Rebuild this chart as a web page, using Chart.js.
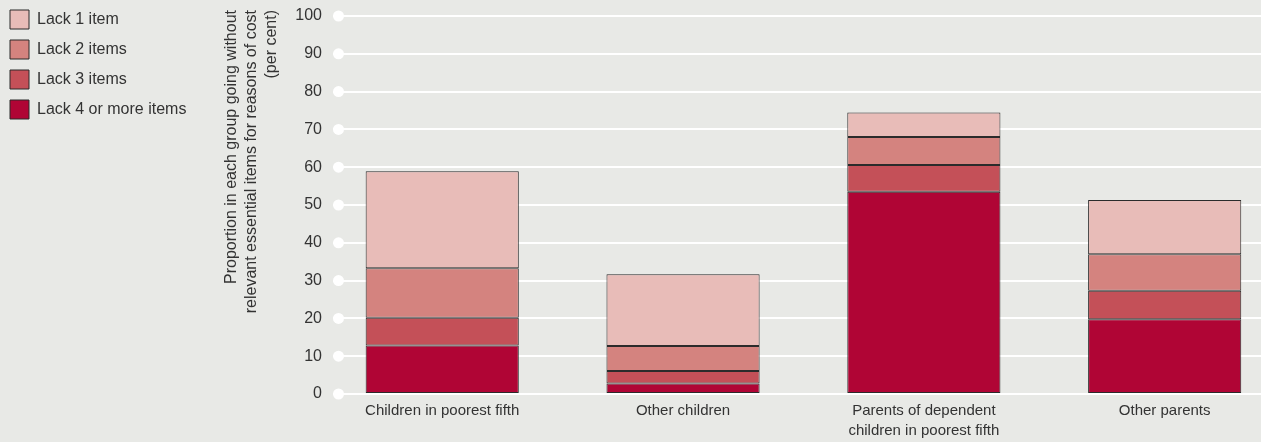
<!DOCTYPE html>
<html>
<head>
<meta charset="utf-8">
<script src="https://cdn.jsdelivr.net/npm/chart.js@4.4.1/dist/chart.umd.min.js"></script>
<style>
  html, body { margin: 0; padding: 0; background: #e8e9e6; overflow: hidden; }
  #wrap { width: 1261px; height: 442px; }
</style>
</head>
<body>
<div id="wrap"><canvas id="chart"></canvas></div>
<script>
// groups along the bottom (multi-line labels as arrays)
const groups = [
    ['Children in poorest fifth'],
    ['Other children'],
    ['Parents of dependent', 'children in poorest fifth'],
    ['Other parents']
];

// per cent lacking items
const lack4 = [12.8, 2.8, 53.5, 19.8];
const lack3 = [7.4, 3.3, 7.1, 7.5];
const lack2 = [13.1, 6.6, 7.4, 9.7];
const lack1 = [25.6, 19.0, 6.5, 14.3];

const seriesLabels = ['Lack 4 or more items', 'Lack 3 items', 'Lack 2 items', 'Lack 1 item'];
const seriesValues = [lack4, lack3, lack2, lack1];
const seriesColors = ['#b00535', '#c45058', '#d4837f', '#e8bcb8'];

const yTitle = [
    'Proportion in each group going without',
    'relevant essential items for reasons of cost',
    '(per cent)'
];

const BG = '#e8e9e6';
const TEXT = '#333333';
const FAMILY = '"Liberation Sans", Arial, Helvetica, sans-serif';

Chart.defaults.font.family = FAMILY;
Chart.defaults.color = TEXT;

// paint the grey page behind everything
const background = {
    id: 'background',
    beforeDraw(chart) {
        const ctx = chart.ctx;
        ctx.save();
        ctx.fillStyle = BG;
        ctx.fillRect(0, 0, chart.width, chart.height);
        ctx.restore();
    }
};

// white dot at the start of each gridline
const gridDots = {
    id: 'gridDots',
    beforeDatasetsDraw(chart) {
        const ctx = chart.ctx;
        const y = chart.scales.y;
        const x0 = chart.chartArea.left + 5.5;
        ctx.save();
        ctx.fillStyle = '#ffffff';
        y.ticks.forEach(t => {
            ctx.beginPath();
            ctx.arc(x0, y.getPixelForValue(t.value), 5.5, 0, Math.PI * 2);
            ctx.fill();
        });
        ctx.restore();
    }
};

// y title, three lines ending at the top of the picture
const yTitleText = {
    id: 'yTitleText',
    afterDraw(chart) {
        const ctx = chart.ctx;
        const x0 = chart.chartArea.left - 101;
        ctx.save();
        ctx.fillStyle = TEXT;
        ctx.font = '16px ' + FAMILY;
        ctx.textAlign = 'right';
        ctx.textBaseline = 'middle';
        yTitle.forEach((line, i) => {
            ctx.save();
            ctx.translate(x0 + i * 20, 10);
            ctx.rotate(-Math.PI / 2);
            ctx.fillText(line, 0, 0);
            ctx.restore();
        });
        ctx.restore();
    }
};

new Chart(document.getElementById('chart'), {
    type: 'bar',
    data: {
        datasets: seriesLabels.map((label, s) => ({
            label: label,
            data: seriesValues[s].map((v, i) => ({ x: i, y: v })),
            backgroundColor: seriesColors[s],
            borderColor: '#2b2b2b',
            borderWidth: 1,
            borderSkipped: false,
            categoryPercentage: 0.8,
            barPercentage: 0.795
        }))
    },
    options: {
        responsive: true,
        maintainAspectRatio: false,
        animation: false,
        layout: {
            padding: { left: -1, top: -1, right: 0, bottom: 0 }
        },
        plugins: {
            tooltip: { enabled: false },
            legend: {
                position: 'left',
                align: 'start',
                reverse: true,
                labels: {
                    boxWidth: 19,
                    boxHeight: 19,
                    padding: 11,
                    color: TEXT,
                    font: { size: 16 }
                }
            }
        },
        scales: {
            x: {
                type: 'linear',
                stacked: true,
                offset: false,
                min: -0.4536,
                max: 3.4,
                afterBuildTicks(scale) {
                    scale.ticks = groups.map((g, i) => ({ value: i }));
                },
                afterFit(scale) {
                    scale.height = 48;
                },
                ticks: {
                    callback: v => groups[v],
                    padding: 7,
                    maxRotation: 0,
                    autoSkip: false,
                    color: TEXT,
                    font: { size: 15, lineHeight: 1.333 }
                },
                grid: { display: false, drawTicks: false },
                border: { display: false }
            },
            y: {
                stacked: true,
                min: 0,
                max: 100,
                afterFit(scale) {
                    scale.width = 334 - scale.chart.legend.width;
                    scale.paddingTop = 16;
                },
                ticks: {
                    stepSize: 10,
                    padding: 11,
                    color: TEXT,
                    font: { size: 16 }
                },
                grid: {
                    color: '#ffffff',
                    lineWidth: 2,
                    drawTicks: false
                },
                border: { display: false },
                title: { display: false }
            }
        }
    },
    plugins: [background, gridDots, yTitleText]
});
</script>
</body>
</html>
